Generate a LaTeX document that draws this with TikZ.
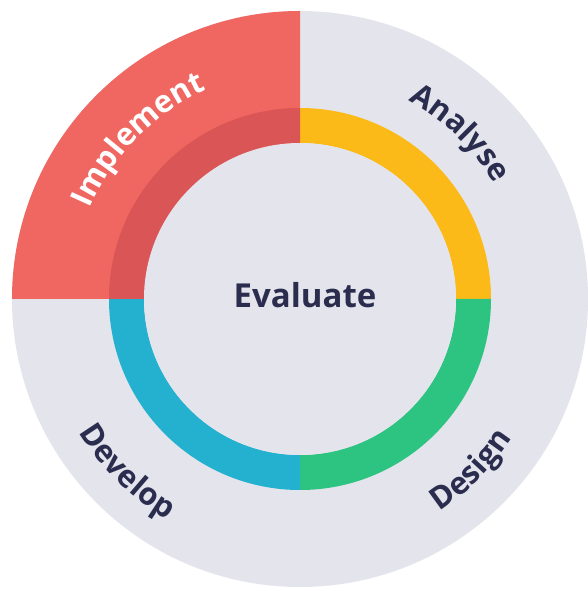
\documentclass[tikz,border=0pt]{standalone}
\usepackage{fontspec}
\setmainfont{Open Sans}
\usepackage{tikz}
\usetikzlibrary{decorations.text}

\definecolor{ringgray}{RGB}{228,228,236}
\definecolor{implred}{RGB}{240,102,97}
\definecolor{impldark}{RGB}{218,85,85}
\definecolor{analyseyellow}{RGB}{252,186,24}
\definecolor{designgreen}{RGB}{45,196,129}
\definecolor{developblue}{RGB}{35,177,207}
\definecolor{textnavy}{RGB}{43,45,79}

\newcommand{\phasefont}{\fontsize{31}{31}\selectfont\bfseries}

\tikzset{
  phaselabel/.style={decorate, decoration={text along path, text align=center, text color=#1}},
  phaselabel/.default=textnavy
}

\begin{document}
\begin{tikzpicture}[x=1pt, y=1pt]

	\useasboundingbox (-300,-292) rectangle (287,299);

	\fill[ringgray] (0,0) circle (288);
	\fill[implred]  (0,0) -- (180:288) arc[start angle=180, end angle=90, radius=288] -- cycle;

	\fill[analyseyellow] (90:191)  arc[start angle=90,  end angle=0,    radius=191] -- (0:156)    arc[start angle=0,    end angle=90,  radius=156] -- cycle;
	\fill[designgreen]   (0:191)   arc[start angle=0,   end angle=-90,  radius=191] -- (-90:156)  arc[start angle=-90,  end angle=0,   radius=156] -- cycle;
	\fill[developblue]   (-90:191) arc[start angle=-90, end angle=-180, radius=191] -- (-180:156) arc[start angle=-180, end angle=-90, radius=156] -- cycle;
	\fill[impldark]      (180:191) arc[start angle=180, end angle=90,   radius=191] -- (90:156)   arc[start angle=90,   end angle=180, radius=156] -- cycle;

	\fill[ringgray] (0,0) circle (156);

	\path[phaselabel=white, decoration={text={|\phasefont|Implement}}] (175.5:229) arc[start angle=175.5, end angle=95.5, radius=229];
	\path[phaselabel, decoration={text={|\phasefont|Analyse}}]   (86:226)  arc[start angle=86,  end angle=6,   radius=226];
	\path[phaselabel, decoration={text={|\phasefont|Design}}]    (-85:254) arc[start angle=-85, end angle=-5,  radius=254];
	\path[phaselabel, decoration={text={|\phasefont|Develop}}]   (185:258) arc[start angle=185, end angle=265, radius=258];

	\node[anchor=base, text=textnavy, font=\fontsize{33}{33}\selectfont\bfseries] (evaluate) at (5,-9) {Evaluate};

\end{tikzpicture}
\end{document}
